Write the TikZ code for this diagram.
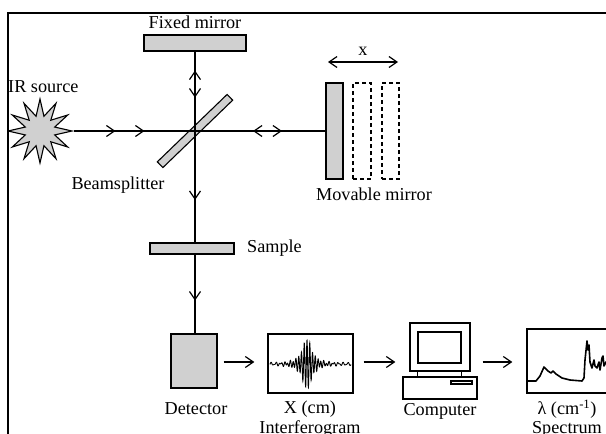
\documentclass[tikz,border=0pt]{standalone}
\usepackage{fontspec}
\setmainfont{Liberation Serif}
\usetikzlibrary{arrows.meta,shapes.geometric,decorations.markings}
\definecolor{cinzapeca}{RGB}{208,208,208}
\tikzset{
  ponta/.tip={Straight Barb[length=8pt,width=11pt]},
  peca/.style={draw, fill=cinzapeca, line width=1.1pt, inner sep=0pt},
  fantasma/.style={draw, line width=1.1pt, inner sep=0pt, dash pattern=on 4pt off 3pt},
  caixa/.style={draw, line width=1.3pt, inner sep=0pt},
  feixe/.style={line width=1.2pt},
  seta/.style={feixe, -{ponta}},
  rotulo/.style={inner sep=0pt, font=\fontsize{18.2}{22}\selectfont},
  ida/.style={postaction={decorate, decoration={markings, mark=at position #1 with {\arrow{ponta}}}}},
  volta/.style={postaction={decorate, decoration={markings, mark=at position #1 with {\arrowreversed{ponta}}}}},
}
\begin{document}
\begin{tikzpicture}[x=1pt, y=-1pt]
  \useasboundingbox (0,0) rectangle (606,434);
  \begin{scope}
    \clip (8,13) rectangle (606,434);

    % Espelho fixo
    \node[peca, minimum width=102pt, minimum height=16pt] (fixo) at (195,43) {};
    \node[rotulo] (rotFixo) at (195,22) {Fixed mirror};

    % Fonte IR
    \node[peca, star, star points=12, star point ratio=2.1, minimum size=64pt] (fonte) at (40,131) {};
    \node[rotulo, anchor=west] (rotFonte) at (8,87) {IR source};

    % Divisor de feixe
    \node[peca, rotate=44, minimum width=97pt, minimum height=8pt] (divisor) at (195,131) {};
    \node[rotulo] (rotDivisor) at (118,185) {Beamsplitter};

    % Espelho movel e posicoes tracejadas
    \node[peca, minimum width=17pt, minimum height=96pt] (movel) at (334.5,131) {};
    \node[fantasma, minimum width=18pt, minimum height=96pt] (fant1) at (362,131) {};
    \node[fantasma, minimum width=17pt, minimum height=96pt] (fant2) at (390.5,131) {};
    \node[rotulo] (rotMovel) at (374,194) {Movable mirror};
    \coordinate (cursoA) at (328,62);
    \coordinate (cursoB) at (398,62);
    \draw[feixe, {ponta}-{ponta}] (cursoA) -- (cursoB)
      node[rotulo, midway, above=6pt] (rotCurso) {x};

    % Amostra e detetor
    \node[peca, minimum width=84pt, minimum height=11pt] (amostra) at (192,248.5) {};
    \node[rotulo, anchor=west] (rotAmostra) at (247,248) {Sample};
    \node[peca, minimum width=46pt, minimum height=54pt] (detetor) at (194,361) {};
    \node[rotulo] (rotDetetor) at (196,409) {Detector};

    % Feixes
    \draw[feixe, ida=41pt, ida=70pt] (fonte.east) -- (divisor.center);
    \draw[feixe, volta=58pt, ida=87pt] (divisor.center) -- (movel.west);
    \draw[feixe, volta=19pt, ida=46pt] (fixo.south) -- (divisor.center);
    \draw[feixe, ida=69pt] (divisor.center) -- (divisor.center |- amostra.north);
    \draw[feixe, ida=46pt] (divisor.center |- amostra.south) -- (divisor.center |- detetor.north);

    % Interferograma
    \node[caixa, minimum width=85pt, minimum height=59pt] (interf) at (310.5,363.5) {};
    \draw[line width=0.9pt] plot[domain=270:351, samples=600]
      (\x, {364 - 1.2*sin((\x-270)*75) - 25*cos((\x-307)*130)/(1+((\x-307)/5.5)^2)});
    \node[rotulo] (rotX) at (310,409) {X (cm)};
    \node[rotulo] (rotInterf) at (310,429) {Interferogram};

    % Computador
    \node[caixa, minimum width=60pt, minimum height=48pt] (monitor) at (440,347) {};
    \node[caixa, minimum width=43pt, minimum height=31pt] (tela) at (439.5,347.5) {};
    \node[caixa, minimum width=74pt, minimum height=22pt] (gabinete) at (440,388) {};
    \node[caixa, minimum width=21pt, minimum height=3pt] (drive) at (461.5,382.5) {};
    \draw[line width=1.3pt] (tela.west |- monitor.south) -- (tela.west |- gabinete.north);
    \draw[line width=1.3pt] (tela.east |- monitor.south) -- (tela.east |- gabinete.north);
    \node[rotulo] (rotComp) at (440,411) {Computer};

    % Espectro
    \node[caixa, minimum width=130pt, minimum height=64pt] (espectro) at (592,361) {};
    \draw[line width=1.6pt, line join=round] (527,381) -- (536,381) -- (540,376) -- (544,367)
      -- (548,371) -- (551,373) -- (553,371) -- (556,374) -- (562,378) -- (570,380)
      -- (582,381) -- (584,378) -- (585,360) -- (587,341) -- (588,350) -- (589,345)
      -- (590,362) -- (592,368) -- (594,360) -- (595,366) -- (597,368) -- (599,362)
      -- (600,370) -- (602,358) -- (603,356) -- (604,366) -- (606,362) -- (610,365);
    \node[rotulo] (rotLambda) at (567,409) {λ (cm\textsuperscript{-1})};
    \node[rotulo] (rotEspectro) at (567,429) {Spectrum};

    % Setas da linha de baixo
    \coordinate (linha) at (0,362);
    \draw[seta, shorten <=6pt, shorten >=13pt] (detetor.east |- linha) -- (interf.west |- linha);
    \draw[seta, shorten <=10pt, shorten >=14pt] (interf.east |- linha) -- (monitor.west |- linha);
    \draw[seta, shorten <=12pt, shorten >=14pt] (monitor.east |- linha) -- (espectro.west |- linha);
  \end{scope}

  % Moldura
  \draw[line width=2.3pt] (8,440) -- (8,13) -- (612,13);
\end{tikzpicture}
\end{document}
